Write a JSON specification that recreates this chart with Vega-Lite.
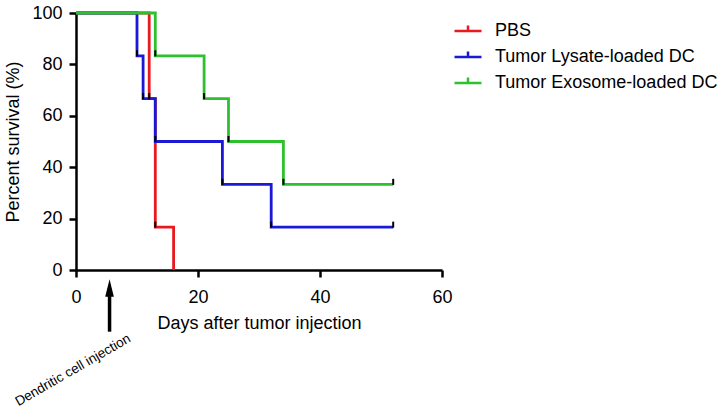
{
  "$schema": "https://vega.github.io/schema/vega-lite/v6.json",
  "width": 366,
  "height": 257,
  "autosize": {"type": "none"},
  "padding": {"left": 76, "top": 13, "right": 275, "bottom": 139},
  "background": "white",
  "config": {
    "view": {"stroke": null},
    "font": "Liberation Sans",
    "axis": {
      "domainColor": "black", "domainWidth": 2.5, "tickColor": "black", "tickWidth": 2.5,
      "tickSize": 7, "labelColor": "black", "labelFontSize": 18, "titleFontSize": 18,
      "titleFontWeight": "normal", "titleColor": "black", "grid": false, "labelFlush": false,
      "labelFont": "Liberation Sans", "titleFont": "Liberation Sans"
    }
  },
  "datasets": {
    "surv": [
      {"day": 0, "pct": 100, "group": "PBS"},
      {"day": 12, "pct": 66.67, "group": "PBS"},
      {"day": 13, "pct": 16.67, "group": "PBS"},
      {"day": 16, "pct": 0, "group": "PBS"},
      {"day": 0, "pct": 100, "group": "Tumor Lysate-loaded DC"},
      {"day": 10, "pct": 83.33, "group": "Tumor Lysate-loaded DC"},
      {"day": 11, "pct": 66.67, "group": "Tumor Lysate-loaded DC"},
      {"day": 13, "pct": 50, "group": "Tumor Lysate-loaded DC"},
      {"day": 24, "pct": 33.33, "group": "Tumor Lysate-loaded DC"},
      {"day": 32, "pct": 16.67, "group": "Tumor Lysate-loaded DC"},
      {"day": 52, "pct": 16.67, "group": "Tumor Lysate-loaded DC"},
      {"day": 0, "pct": 100, "group": "Tumor Exosome-loaded DC"},
      {"day": 13, "pct": 83.33, "group": "Tumor Exosome-loaded DC"},
      {"day": 21, "pct": 66.67, "group": "Tumor Exosome-loaded DC"},
      {"day": 25, "pct": 50, "group": "Tumor Exosome-loaded DC"},
      {"day": 34, "pct": 33.33, "group": "Tumor Exosome-loaded DC"},
      {"day": 52, "pct": 33.33, "group": "Tumor Exosome-loaded DC"}
    ],
    "ticks": [
      {"day": 12, "pct": 66.67},
      {"day": 13, "pct": 16.67},
      {"day": 10, "pct": 83.33},
      {"day": 11, "pct": 66.67},
      {"day": 13, "pct": 50},
      {"day": 24, "pct": 33.33},
      {"day": 32, "pct": 16.67},
      {"day": 52, "pct": 16.67},
      {"day": 13, "pct": 83.33},
      {"day": 21, "pct": 66.67},
      {"day": 25, "pct": 50},
      {"day": 34, "pct": 33.33},
      {"day": 52, "pct": 33.33}
    ],
    "arrow": [
      {"day": 5.5, "top": -7, "bottom": -24}
    ],
    "note": [
      {"day": -0.5, "pct": -39, "text": "Dendritic cell injection"}
    ]
  },
  "layer": [
    {
      "data": {"name": "surv"},
      "mark": {"type": "line", "interpolate": "step-after", "strokeWidth": 2.8},
      "encoding": {
        "x": {"field": "day", "type": "quantitative", "scale": {"domain": [0, 60]},
              "axis": {"values": [0, 20, 40, 60], "title": "Days after tumor injection", "titlePadding": 8, "labelPadding": 11}},
        "y": {"field": "pct", "type": "quantitative", "scale": {"domain": [0, 100]},
              "axis": {"values": [0, 20, 40, 60, 80, 100], "title": "Percent survival (%)", "labelPadding": 7, "titlePadding": 9}},
        "color": {"field": "group", "type": "nominal",
          "scale": {"domain": ["PBS", "Tumor Lysate-loaded DC", "Tumor Exosome-loaded DC"], "range": ["#e8191f", "#1a1ad6", "#2ec12e"]},
          "legend": {"title": null, "orient": "none", "legendX": 377, "legendY": 3, "padding": 0,
            "symbolType": "M-1,0H1M0,0V-0.4", "symbolSize": 729, "symbolStrokeWidth": 2.5,
            "labelFontSize": 18, "labelColor": "black", "labelOffset": 12, "rowPadding": 2, "labelLimit": 400,
            "labelFont": "Liberation Sans"}
        },
        "order": {"field": "day", "type": "quantitative"}
      }
    },
    {
      "data": {"name": "ticks"},
      "mark": {"type": "tick", "orient": "vertical", "color": "black", "size": 6, "thickness": 2, "yOffset": -2.5, "opacity": 1},
      "encoding": {
        "x": {"field": "day", "type": "quantitative"},
        "y": {"field": "pct", "type": "quantitative"}
      }
    },
    {
      "data": {"name": "arrow"},
      "mark": {"type": "rule", "color": "black", "strokeWidth": 3.5},
      "encoding": {
        "x": {"field": "day", "type": "quantitative"},
        "y": {"field": "top", "type": "quantitative"},
        "y2": {"field": "bottom"}
      }
    },
    {
      "data": {"name": "arrow"},
      "mark": {"type": "point", "shape": "M-0.5,1L0,-1L0.5,1Z", "filled": true, "color": "black", "size": 300, "opacity": 1},
      "encoding": {
        "x": {"field": "day", "type": "quantitative"},
        "y": {"field": "top", "type": "quantitative"}
      }
    },
    {
      "data": {"name": "note"},
      "mark": {"type": "text", "angle": -30, "fontSize": 13.5, "font": "Liberation Sans", "align": "center", "baseline": "middle", "color": "black"},
      "encoding": {
        "x": {"field": "day", "type": "quantitative"},
        "y": {"field": "pct", "type": "quantitative"},
        "text": {"field": "text"}
      }
    }
  ]
}
